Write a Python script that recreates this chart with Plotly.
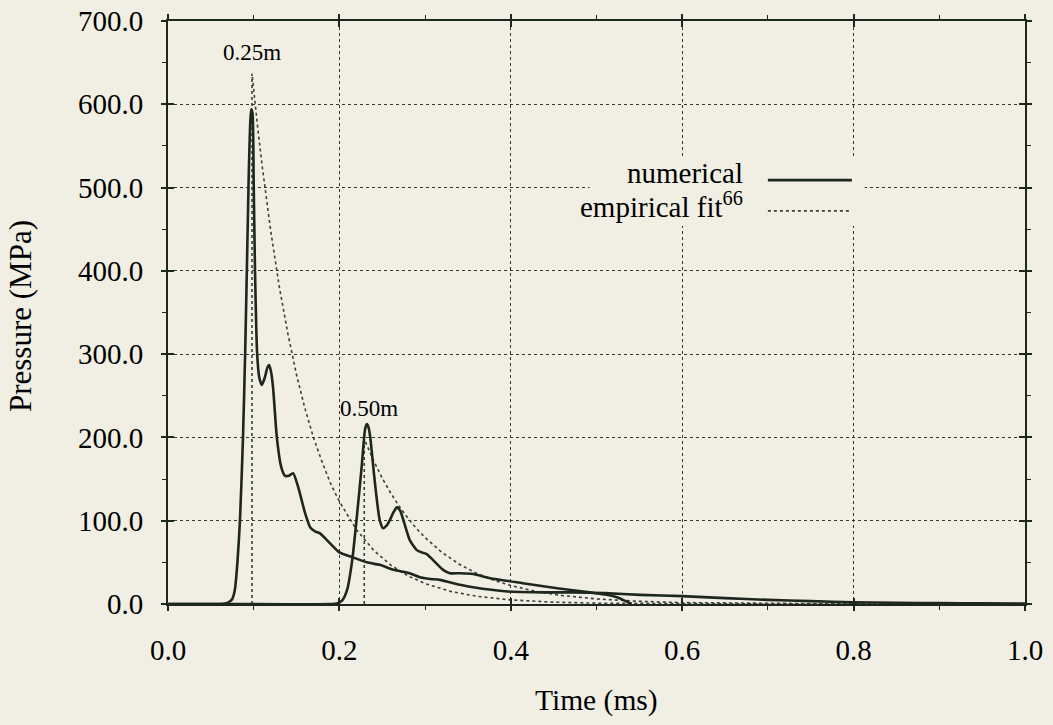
import plotly.graph_objects as go

# ---------------- data ----------------
# numerical pressure history at 0.25 m
t_num1 = [0, 0.06, 0.068, 0.072, 0.075, 0.078, 0.081, 0.084, 0.0875, 0.090, 0.092,
          0.094, 0.0955, 0.097, 0.0985, 0.100, 0.1015, 0.104, 0.1065, 0.1095, 0.113,
          0.116, 0.118, 0.120, 0.1225, 0.127, 0.132, 0.1365, 0.141, 0.146, 0.152,
          0.160, 0.166, 0.172, 0.177, 0.189, 0.200, 0.216, 0.232, 0.247, 0.263,
          0.282, 0.294, 0.306, 0.317, 0.341, 0.356, 0.396, 0.435, 0.473, 0.51,
          0.551, 0.60, 0.65, 0.70, 0.75, 0.80, 0.85, 0.90, 0.95, 1.0]
p_num1 = [0, 0, 1, 3, 6, 17, 50, 101, 200, 300, 400,
          505, 565, 594, 590, 505, 401, 301, 272, 263, 272,
          284, 287, 280, 261, 200, 165, 154, 154, 157, 140,
          109, 92, 87, 85, 73, 62, 56, 50, 47, 41,
          37, 32, 30, 29, 23, 20, 15, 14, 14, 13,
          11, 9.5, 7, 5, 3.5, 2, 1.5, 1, 0.7, 0.5]

# numerical pressure history at 0.50 m
t_num2 = [0, 0.19, 0.197, 0.203, 0.209, 0.215, 0.220, 0.226, 0.230, 0.232, 0.234,
          0.236, 0.2415, 0.247, 0.251, 0.255, 0.259, 0.263, 0.267, 0.271, 0.274,
          0.282, 0.290, 0.296, 0.302, 0.309, 0.321, 0.329, 0.341, 0.356, 0.376,
          0.414, 0.454, 0.492, 0.512, 0.524, 0.531, 0.536, 0.541]
p_num2 = [0, 0, 0.5, 4, 17, 53, 101, 165, 210, 216, 212,
          200, 145, 101, 91, 94, 101, 110, 116, 112, 103,
          77, 65, 62, 60, 53, 41, 37, 37, 36, 31,
          25, 19, 14, 11, 8, 5, 2.4, 0]

# empirical fit at 0.25 m
t_fit1 = [0.098, 0.098, 0.105, 0.11, 0.12, 0.13, 0.14, 0.15, 0.16, 0.17, 0.18,
          0.19, 0.20, 0.22, 0.24, 0.26, 0.28, 0.30, 0.33, 0.36, 0.40, 0.45,
          0.50, 0.60, 0.70, 1.0]
p_fit1 = [0, 637, 569, 525, 447, 380, 324, 275, 234, 199, 170,
          144, 123, 89, 64.5, 46.7, 33.8, 24.5, 15.1, 9.3, 4.9, 2.2,
          1.0, 0.2, 0.05, 0]

# empirical fit at 0.50 m
t_fit2 = [0.229, 0.229, 0.24, 0.25, 0.26, 0.27, 0.28, 0.29, 0.30, 0.32, 0.34,
          0.36, 0.38, 0.40, 0.43, 0.46, 0.50, 0.55, 0.60, 0.70, 0.80, 1.0]
p_fit2 = [0, 198, 172, 151, 133, 117, 103, 90.6, 79.7, 61.7, 47.7,
          36.9, 28.6, 22.1, 15.0, 10.2, 6.1, 3.2, 1.7, 0.5, 0.1, 0]

x_ticks = [0.0, 0.2, 0.4, 0.6, 0.8, 1.0]
y_ticks = [0, 100, 200, 300, 400, 500, 600, 700]

# ---------------- styling ----------------
BG = "#f1efe4"
INK = "#1e261e"
FONT = "Liberation Serif, Times New Roman, serif"

fig = go.Figure()

fig.add_trace(go.Scatter(x=t_fit1, y=p_fit1, mode="lines", name="empirical fit",
                         line=dict(color="#3a403a", width=1.6, dash="dot"),
                         showlegend=False))
fig.add_trace(go.Scatter(x=t_fit2, y=p_fit2, mode="lines", name="empirical fit",
                         line=dict(color="#3a403a", width=1.6, dash="dot"),
                         showlegend=False))
fig.add_trace(go.Scatter(x=t_num1, y=p_num1, mode="lines", name="numerical",
                         line=dict(color=INK, width=2.6, shape="spline", smoothing=0.6),
                         showlegend=False))
fig.add_trace(go.Scatter(x=t_num2, y=p_num2, mode="lines", name="numerical",
                         line=dict(color=INK, width=2.6, shape="spline", smoothing=0.6),
                         showlegend=False))
# dummy trace for overlay axes (inner tick marks)
fig.add_trace(go.Scatter(x=[None], y=[None], xaxis="x2", yaxis="y2",
                         showlegend=False, hoverinfo="skip"))

axis_common = dict(
    showline=True, linecolor=INK, linewidth=2, mirror="ticks",
    ticks="outside", ticklen=5, tickwidth=1.5, tickcolor=INK,
    showgrid=True, gridcolor="#333833", griddash="dot", gridwidth=1.3,
    zeroline=False, tickformat=".1f", automargin=False,
    tickfont=dict(family=FONT, size=29, color="#000"),
)

fig.update_layout(
    width=1053, height=725,
    margin=dict(l=168, r=28, t=21, b=121),
    paper_bgcolor=BG, plot_bgcolor=BG,
    font=dict(family=FONT, color="#000"),
    xaxis=dict(range=[0, 1.0], tickvals=x_ticks,
               minor=dict(dtick=0.1, ticks="outside", ticklen=4, tickwidth=1.2,
                          tickcolor=INK, showgrid=False),
               ticklabelstandoff=14, **axis_common),
    yaxis=dict(range=[0, 700], tickvals=y_ticks,
               minor=dict(dtick=50, ticks="outside", ticklen=4, tickwidth=1.2,
                          tickcolor=INK, showgrid=False),
               ticklabelstandoff=12, **axis_common),
    xaxis2=dict(range=[0, 1.0], overlaying="x", anchor="y2", tickvals=x_ticks,
                ticks="inside", ticklen=6, tickwidth=1.5, tickcolor=INK,
                showticklabels=False, showgrid=False, showline=False,
                zeroline=False, mirror="ticks", automargin=False),
    yaxis2=dict(range=[0, 700], overlaying="y", anchor="x2", tickvals=y_ticks,
                ticks="inside", ticklen=6, tickwidth=1.5, tickcolor=INK,
                showticklabels=False, showgrid=False, showline=False,
                zeroline=False, mirror="ticks", automargin=False),
    showlegend=False,
)

# legend area mask (hides gridlines behind the legend)
fig.add_shape(type="rect", xref="x", yref="y", x0=0.492, x1=0.813, y0=454, y1=536,
              fillcolor=BG, line=dict(width=0), layer="above")
# legend samples
fig.add_shape(type="line", xref="x", yref="y", x0=0.700, x1=0.798, y0=509, y1=509,
              line=dict(color=INK, width=2.6), layer="above")
fig.add_shape(type="line", xref="x", yref="y", x0=0.700, x1=0.796, y0=472, y1=472,
              line=dict(color="#3a403a", width=1.6, dash="dot"), layer="above")

annots = [
    dict(text="numerical", x=0.673, y=517, xanchor="right", yanchor="middle", size=29),
    dict(text="empirical fit<sup>66</sup>", x=0.673, y=479, xanchor="right",
         yanchor="middle", size=29),
    dict(text="0.25m", x=0.098, y=662, xanchor="center", yanchor="middle", size=23),
    dict(text="0.50m", x=0.2345, y=235, xanchor="center", yanchor="middle", size=23),
]
for a in annots:
    fig.add_annotation(text=a["text"], x=a["x"], y=a["y"], xref="x", yref="y",
                       xanchor=a["xanchor"], yanchor=a["yanchor"], showarrow=False,
                       font=dict(family=FONT, size=a["size"], color="#000"))

# axis titles
fig.add_annotation(text="Time (ms)", xref="paper", yref="paper", x=0.5, y=-0.1647,
                   xanchor="center", yanchor="middle", showarrow=False,
                   font=dict(family=FONT, size=29.5, color="#000"))
fig.add_annotation(text="Pressure (MPa)", xref="paper", yref="paper", x=-0.1715, y=0.494,
                   xanchor="center", yanchor="middle", showarrow=False, textangle=-90,
                   font=dict(family=FONT, size=31, color="#000"))

fig.write_html("out.html")
